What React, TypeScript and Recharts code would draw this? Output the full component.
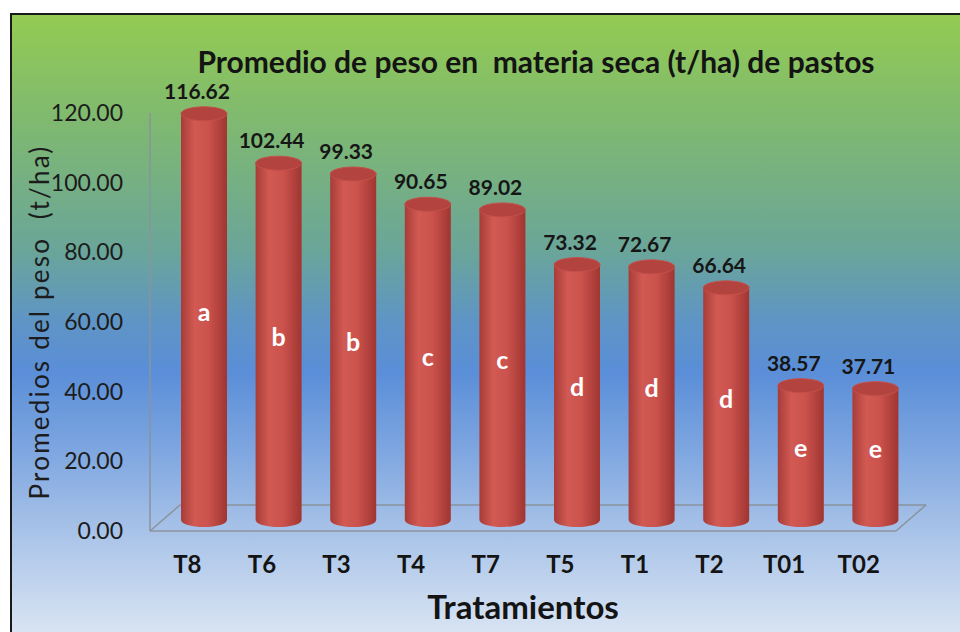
import { BarChart, Bar, XAxis, YAxis, Label } from "recharts";

const treatments = ["T8", "T6", "T3", "T4", "T7", "T5", "T1", "T2", "T01", "T02"];
const weights = [116.62, 102.44, 99.33, 90.65, 89.02, 73.32, 72.67, 66.64, 38.57, 37.71];
const groups = ["a", "b", "b", "c", "c", "d", "d", "d", "e", "e"];
const yTicks = [0, 20, 40, 60, 80, 100, 120];

const data = treatments.map((name, i) => ({ name, peso: weights[i], grupo: groups[i] }));

// layout of the fake 3D box
const PLOT_L = 150;
const PLOT_R = 896;
const DEPTH_X = 30;
const DEPTH_Y = 26;
const OFF_X = 17;
const OFF_Y = -11;
const RY = 7;
const FONT = "Lato, 'Open Sans', sans-serif";

function Cylinder(props: any) {
  const { x, y, width, height, index, payload } = props;
  const front = y + height;
  const cx = x + width / 2 + OFF_X;
  const r = width / 2;
  const top = y + OFF_Y;
  const base = front + OFF_Y;
  const gid = `cyl-${index}`;
  return (
    <g>
      <defs>
        <linearGradient id={gid} x1="0" y1="0" x2="1" y2="0">
          <stop offset="0" stopColor="#a83c38" />
          <stop offset="0.3" stopColor="#d25a53" />
          <stop offset="0.6" stopColor="#cb524d" />
          <stop offset="1" stopColor="#a03531" />
        </linearGradient>
      </defs>
      {index === 0 && (
        <g stroke="#8a939c" strokeWidth={1.5} fill="none">
          <line x1={PLOT_L} y1={front} x2={PLOT_L + DEPTH_X} y2={front - DEPTH_Y} />
          <line x1={PLOT_L + DEPTH_X} y1={front - DEPTH_Y} x2={PLOT_R + DEPTH_X} y2={front - DEPTH_Y} />
          <line x1={PLOT_R} y1={front} x2={PLOT_R + DEPTH_X} y2={front - DEPTH_Y} />
        </g>
      )}
      <path
        d={`M${cx - r},${top} L${cx - r},${base} A${r},${RY} 0 0 0 ${cx + r},${base} L${cx + r},${top} Z`}
        fill={`url(#${gid})`}
      />
      <ellipse cx={cx} cy={top} rx={r} ry={RY} fill="#b3433e" stroke="#c4504a" strokeWidth={1} />
      <text
        x={x + width / 2 + 10}
        y={top - 15}
        textAnchor="middle"
        fontFamily={FONT}
        fontWeight={700}
        fontSize={21}
        fill="#161616"
      >
        {payload.peso.toFixed(2)}
      </text>
      <text
        x={cx}
        y={(top + base) / 2 + 4}
        textAnchor="middle"
        fontFamily={FONT}
        fontWeight={700}
        fontSize={25}
        fill="#ffffff"
      >
        {payload.grupo}
      </text>
    </g>
  );
}

export default function App() {
  return (
    <div style={{ position: "absolute", left: 0, top: 0, width: 960, height: 632, overflow: "hidden", background: "#fff" }}>
      <div
        style={{
          position: "absolute",
          left: 10,
          top: 13,
          width: 980,
          height: 660,
          border: "2px solid #1a1a1a",
          background:
            "linear-gradient(to bottom, #93cb52 0%, #7db774 18%, #6aa59a 36%, #5f95c4 46%, #5a8ed8 54%, #7ea6e0 66%, #a7c2e8 78%, #dae5f3 94%, #e2eaf5 100%)",
        }}
      />
      <div
        style={{
          position: "absolute",
          left: 0,
          top: 43,
          width: 1072,
          textAlign: "center",
          fontFamily: FONT,
          fontWeight: 700,
          fontSize: 30,
          color: "#141414",
          whiteSpace: "pre",
        }}
      >
        Promedio de peso en  materia seca (t/ha) de pastos
      </div>
      <div style={{ position: "absolute", left: 0, top: 0 }}>
        <BarChart width={960} height={632} data={data} margin={{ top: 113, right: 64, bottom: 41, left: 20 }}>
          <XAxis
            dataKey="name"
            height={60}
            tickLine={false}
            tickSize={0}
            tickMargin={25}
            axisLine={{ stroke: "#8a939c", strokeWidth: 1.5 }}
            tick={{ fill: "#141414", fontFamily: FONT, fontWeight: 700, fontSize: 24 }}
          >
            <Label
              value="Tratamientos"
              position="bottom"
              offset={5}
              style={{ fill: "#141414", fontFamily: FONT, fontWeight: 700, fontSize: 33 }}
            />
          </XAxis>
          <YAxis
            width={130}
            domain={[0, 120]}
            ticks={yTicks}
            tickFormatter={(v: number) => v.toFixed(2)}
            tickLine={false}
            tickSize={0}
            tickMargin={27}
            axisLine={{ stroke: "#8a939c", strokeWidth: 1.5 }}
            tick={{ fill: "#1c1c1c", fontFamily: FONT, fontSize: 23 }}
          >
            <Label
              value={"Promedios del peso\u00A0\u00A0(t/ha)"}
              angle={-90}
              position="insideLeft"
              offset={20}
              style={{ fill: "#1c1c1c", fontFamily: FONT, fontSize: 26, letterSpacing: 2.2, textAnchor: "middle" }}
            />
          </YAxis>
          <Bar dataKey="peso" barSize={46} shape={Cylinder} isAnimationActive={false} />
        </BarChart>
      </div>
    </div>
  );
}
